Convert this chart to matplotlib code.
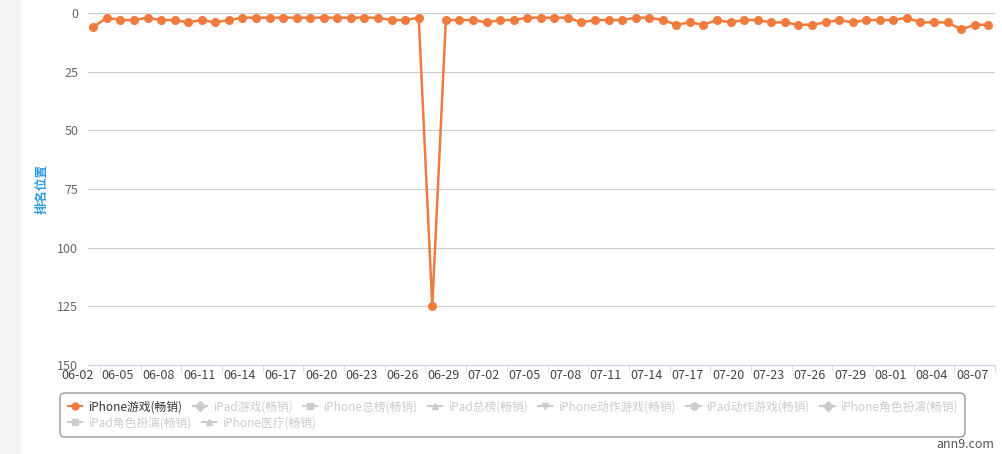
import numpy as np
import pandas as pd
import matplotlib
matplotlib.use('Agg')
import matplotlib.pyplot as plt
from matplotlib.patches import FancyBboxPatch, Rectangle
from matplotlib.transforms import IdentityTransform

plt.rcParams['font.family'] = ['Noto Sans CJK SC', 'DejaVu Sans']

# daily rank, 06-02 .. 08-07
dates = pd.date_range('2019-06-02', periods=67).strftime('%m-%d').tolist()
rank = [6, 2, 3, 3, 2, 3, 3, 4, 3, 4,
        3, 2, 2, 2, 2, 2, 2, 2, 2, 2,
        2, 2, 3, 3, 2, 125, 3, 3, 3, 4,
        3, 3, 2, 2, 2, 2, 4, 3, 3, 3,
        2, 2, 3, 5, 4, 5, 3, 4, 3, 3,
        4, 4, 5, 5, 4, 3, 4, 3, 3, 3,
        2, 4, 4, 4, 7, 5, 5]

series_names = ['iPhone游戏(畅销)', 'iPad游戏(畅销)', 'iPhone总榜(畅销)', 'iPad总榜(畅销)',
                'iPhone动作游戏(畅销)', 'iPad动作游戏(畅销)', 'iPhone角色扮演(畅销)',
                'iPad角色扮演(畅销)', 'iPhone医疗(畅销)']
series_markers = ['o', 'D', 's', '^', 'v', 'o', 'D', 's', '^']

W, H = 1002, 454
fig = plt.figure(figsize=(W / 100, H / 100), dpi=100)
fig.add_artist(Rectangle((0, 0), 20 / W, 1, transform=fig.transFigure,
                         color='#f4f4f4', zorder=-5))

ax = fig.add_axes([88 / W, 1 - 365 / H, (995 - 88) / W, (365 - 13) / H])
x = np.arange(len(rank))
orange = '#ef7b3e'
ax.plot(x, rank, color=orange, lw=1.8, marker='o', ms=5.5, mec=orange,
        clip_on=False, zorder=3)

ax.set_ylim(150, 0)
ax.set_xlim(-0.39, 66.45)
ax.set_yticks(range(0, 151, 25))
ax.grid(axis='y', color='#cccccc', lw=0.8)
for s in ['top', 'left', 'right']:
    ax.spines[s].set_visible(False)
ax.spines['bottom'].set_color('#ccd6eb')
ax.tick_params(axis='y', length=0, pad=7, labelcolor='#666666', labelsize=9)

ax.set_xticks(x[::3])
ax.set_xticklabels(dates[::3])
plt.setp(ax.get_xticklabels(), ha='right')
ax.set_xticks(np.arange(0.5, 67, 3), minor=True)
ax.tick_params(axis='x', which='major', length=0, pad=3, labelcolor='#444444', labelsize=9)
ax.tick_params(axis='x', which='minor', length=5, color='#ccd6eb')

fig.text(42.5 / W, 1 - 189 / H, '排名位置', rotation=90, color='#2b9be0',
         fontsize=9, fontweight='bold', ha='center', va='center')
fig.text(994 / W, 1 - 444 / H, 'ann9.com', ha='right', va='center',
         color='#555555', fontsize=9)

# legend
handles = []
for i, (name, m) in enumerate(zip(series_names, series_markers)):
    c = orange if i == 0 else '#cccccc'
    h, = ax.plot([], [], color=c, marker=m, ms=5, lw=1.5, label=name)
    handles.append(h)

box = FancyBboxPatch((60, H - 437), 905, 44, boxstyle='round,pad=0,rounding_size=5',
                     transform=IdentityTransform(), fc='white', ec='#999999', lw=1)
fig.add_artist(box)

rows = [(handles[:7], 407), (handles[7:], 423)]
for hs, yy in rows:
    leg = fig.legend(hs, [h.get_label() for h in hs], loc='center left',
                     bbox_to_anchor=(68 / W, 1 - yy / H), ncol=len(hs), frameon=False,
                     fontsize=8.5, handlelength=1.2, handletextpad=0.5,
                     columnspacing=0.9, borderpad=0, borderaxespad=0)
    for t, h in zip(leg.get_texts(), hs):
        t.set_color('#333333' if h is handles[0] else '#cccccc')

fig.savefig('out.png', dpi=100)
